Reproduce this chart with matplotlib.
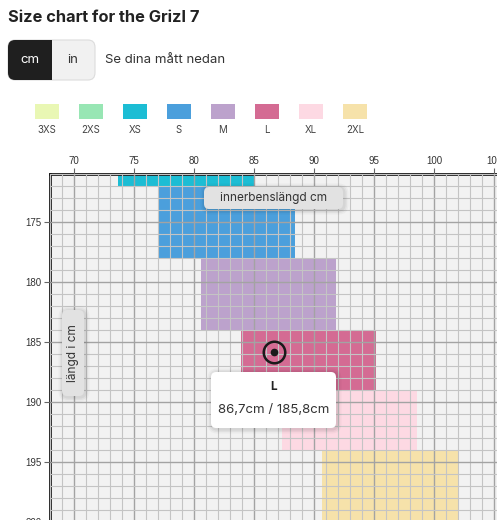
import matplotlib.pyplot as plt
from matplotlib.patches import Rectangle, FancyBboxPatch
from matplotlib.ticker import MultipleLocator

plt.rcParams['font.family'] = ['Inter', 'DejaVu Sans']

# ---- data ----
sizes = ['3XS', '2XS', 'XS', 'S', 'M', 'L', 'XL', '2XL']
colors = ['#e9f7b4', '#98e6b4', '#1cbdd4', '#4b9fdc', '#bca2cc', '#d46b93', '#fdd9e3', '#f6e2aa']
inseam_lo = [63.6, 70.4, 73.7, 77.1, 80.6, 83.9, 87.3, 90.7]
inseam_hi = [74.9, 81.6, 85.0, 88.4, 91.8, 95.2, 98.6, 102.0]
height_lo = [158, 162, 166, 172, 178, 184, 189, 194]
height_hi = [162, 166, 172, 178, 184, 189, 194, 200]
sel_size = 'L'
sel_inseam = 86.7
sel_height = 185.8

W, H = 497, 520
fig = plt.figure(figsize=(W / 100, H / 100), dpi=100)
fig.patch.set_facecolor('white')


def px(x, y):
    return x / W, 1 - y / H


def fbox(x0, y0, x1, y1, fc, ec='none', rs=6, z=5, shadow=False):
    if shadow:
        for i, a in enumerate([0.05, 0.04, 0.03]):
            d = 1.5 + i * 1.5
            sx, sy = px(x0 - d + 1, y1 + d + 1)
            fig.patches.append(FancyBboxPatch(
                (sx, sy), (x1 - x0 + 2 * d) / W, (y1 - y0 + 2 * d) / H,
                boxstyle=f'round,pad=0,rounding_size={(rs + d) / W}',
                transform=fig.transFigure, fc='black', ec='none', alpha=a, zorder=z - 0.1))
    bx, by = px(x0, y1)
    fig.patches.append(FancyBboxPatch(
        (bx, by), (x1 - x0) / W, (y1 - y0) / H,
        boxstyle=f'round,pad=0,rounding_size={rs / W}',
        transform=fig.transFigure, fc=fc, ec=ec, lw=0.8, zorder=z))


# ---- header ----
fig.text(*px(8, 17), 'Size chart for the Grizl 7', fontsize=11.8, fontweight='bold',
         color='#222222', va='center', ha='left')

fbox(8, 40, 95, 80, '#f1f1f1', ec='#dcdcdc', rs=7)
fbox(8, 40, 52, 80, '#1f1f1f', rs=7, z=5.2)
fig.patches.append(Rectangle(px(42, 80), 10 / W, 40 / H, transform=fig.transFigure,
                             fc='#1f1f1f', ec='none', zorder=5.3))
fig.text(*px(30, 60), 'cm', fontsize=9.5, color='white', ha='center', va='center', zorder=6)
fig.text(*px(73, 60), 'in', fontsize=9.5, color='#333333', ha='center', va='center', zorder=6)
fig.text(*px(105, 60), 'Se dina mått nedan', fontsize=9.5, color='#333333',
         ha='left', va='center')

# ---- legend ----
for i, (s, c) in enumerate(zip(sizes, colors)):
    cx = 47 + i * 44
    fig.patches.append(Rectangle(px(cx - 12, 119), 24 / W, 15 / H,
                                 transform=fig.transFigure, fc=c, ec='none'))
    fig.text(*px(cx, 130), s, fontsize=7, color='#444444', ha='center', va='center')

# ---- chart ----
ax = fig.add_axes([50 / W, 1 - 534 / H, 480 / W, 360 / H])
ax.set_facecolor('#f2f2f2')
ax.set_xlim(68, 108)
ax.set_ylim(201, 171)

for s, c, x0, x1, y0, y1 in zip(sizes, colors, inseam_lo, inseam_hi, height_lo, height_hi):
    ax.add_patch(Rectangle((x0, y0), x1 - x0, y1 - y0, fc=c, ec='none', zorder=1))

ax.xaxis.set_major_locator(MultipleLocator(5))
ax.xaxis.set_minor_locator(MultipleLocator(1))
ax.yaxis.set_major_locator(MultipleLocator(5))
ax.yaxis.set_minor_locator(MultipleLocator(1))
ax.xaxis.tick_top()
ax.tick_params(which='major', length=4, width=0.8, color='#666666',
               labelsize=7, labelcolor='#333333', pad=2)
ax.tick_params(which='minor', length=0)
for lab in ax.get_xticklabels() + ax.get_yticklabels():
    lab.set_family('Liberation Sans')
ax.set_axisbelow(False)
ax.grid(which='minor', color='#c4c4c4', lw=0.8, zorder=2)
ax.grid(which='major', color='#a3a3a3', lw=1.0, zorder=2)

for side in ['right', 'bottom']:
    ax.spines[side].set_visible(False)
for side in ['top', 'left']:
    ax.spines[side].set_linewidth(2)
    ax.spines[side].set_color('#1a1a1a')

# selected point marker
ax.plot([sel_inseam], [sel_height], marker='o', ms=15.5, mfc='none', mec='#1a1a1a',
        mew=1.8, zorder=4)
ax.plot([sel_inseam], [sel_height], marker='o', ms=4.5, color='#1a1a1a', zorder=4)

# axis name boxes
fbox(204, 187, 343, 209, '#e2e2e2', rs=5, z=5, shadow=True)
fig.text(*px(273.5, 198), 'innerbenslängd cm', fontsize=8.5, color='#333333',
         ha='center', va='center', zorder=6)
fbox(62, 310, 84, 396, '#e2e2e2', rs=5, z=5, shadow=True)
fig.text(*px(73, 353), 'längd i cm', fontsize=8.5, color='#333333', rotation=90,
         ha='center', va='center', zorder=6)

# tooltip
fbox(211, 372, 336, 428, 'white', rs=5, z=7, shadow=True)
fig.text(*px(273.5, 387), sel_size, fontsize=8.5, fontweight='bold', color='#222222',
         ha='center', va='center', zorder=8)
tip = f'{sel_inseam:.1f}cm / {sel_height:.1f}cm'.replace('.', ',')
fig.text(*px(273.5, 410), tip, fontsize=9.5, color='#333333',
         ha='center', va='center', zorder=8)

fig.savefig('out.png', dpi=100)
